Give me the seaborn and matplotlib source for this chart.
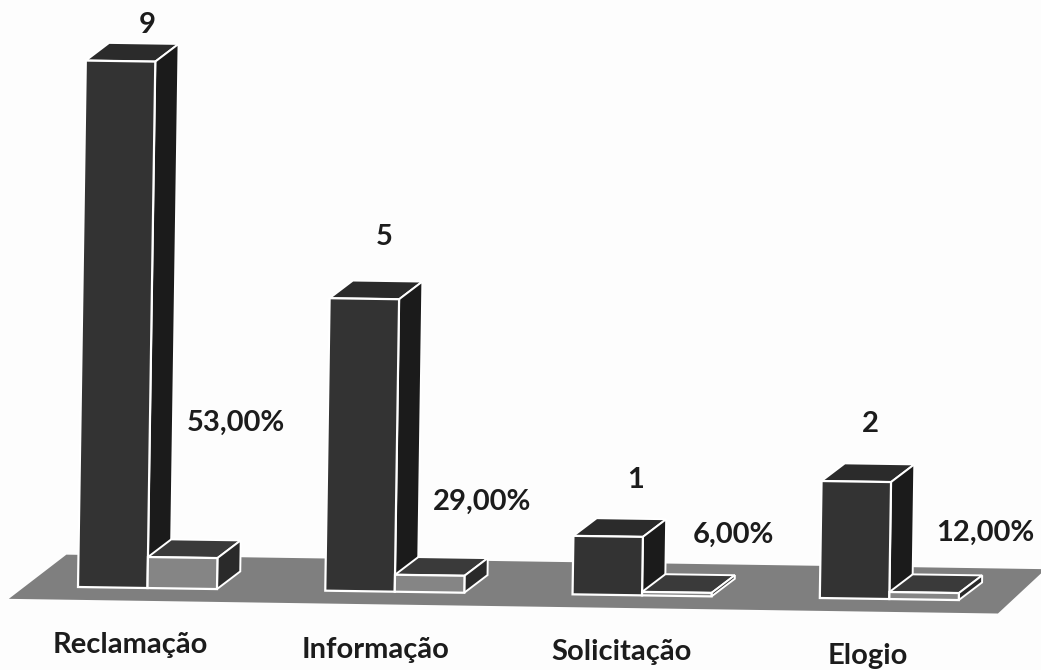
#!/usr/bin/env python3
# -*- coding: utf-8 -*-
import seaborn as sns
import pandas as pd
import matplotlib
matplotlib.use('Agg')
import matplotlib.pyplot as plt
from matplotlib.transforms import Affine2D

# values
categories = ['Reclamação', 'Informação', 'Solicitação', 'Elogio']
counts = [9, 5, 1, 2]
percents = [0.53, 0.29, 0.06, 0.12]
percent_labels = ['53,00%', '29,00%', '6,00%', '12,00%']

W, H = 1041, 670
px_x = 247.3    # pixels per category
px_y = 58.5     # pixels per count
x0, y0 = 147.5, 587   # pixel of the first category at the baseline
tilt = -0.85    # the scan is slightly rotated

sns.set_theme(style='white')
plt.rcParams['font.family'] = ['Lato', 'DejaVu Sans']

df = pd.DataFrame({
    'categoria': categories * 2,
    'valor': counts + percents,
    'serie': ['n'] * 4 + ['pct'] * 4,
})

paper = '#fdfdfd'
fig = plt.figure(figsize=(W / 100, H / 100), dpi=100, facecolor=paper)
ax = fig.add_axes([0, 0, 1, 1])
sns.barplot(data=df, x='categoria', y='valor', hue='serie', order=categories,
            hue_order=['n', 'pct'], palette={'n': '#333333', 'pct': '#858585'},
            width=139 / px_x, saturation=1, edgecolor='white', linewidth=1.6,
            legend=False, ax=ax)
ax.set_xlim(-x0 / px_x, (W - x0) / px_x)
ax.set_ylim(-(H - y0) / px_y, y0 / px_y)
ax.axis('off')

rot = Affine2D().rotate_deg_around(78, H - y0, tilt)
trans = ax.transData + rot

# floor under the bars
floor_x = [-0.56, -0.33, 3.63, 3.44]
floor_y = [-0.22, 0.55, 0.55, -0.22]
ax.fill(floor_x, floor_y, color='#7f7f7f', lw=0, zorder=1, transform=trans,
        clip_on=False)

# depth of the 3d bars, taken from the bars seaborn drew
dx = 23 / px_x
dy = 18 / px_y
styles = [('#2b2b2b', '#1b1b1b', 2), ('#3a3a3a', '#2a2a2a', 4)]
for container, (top_c, side_c, z) in zip(ax.containers, styles):
    for bar in container:
        x, w, h = bar.get_x(), bar.get_width(), bar.get_height()
        ax.fill([x, x + dx, x + w + dx, x + w], [h, h + dy, h + dy, h],
                facecolor=top_c, edgecolor='white', lw=1.4, zorder=z,
                transform=trans, clip_on=False)
        ax.fill([x + w, x + w + dx, x + w + dx, x + w],
                [0, dy, h + dy, h],
                facecolor=side_c, edgecolor='white', lw=1.4, zorder=z,
                transform=trans, clip_on=False)
        bar.set_transform(trans)
        bar.set_zorder(z + 1)
        bar.set_clip_on(False)

# text positions in pixels
count_pos = [(147, 25), (384, 237), (636, 480), (870, 424)]
pct_pos = [(236, 423), (482, 502), (733, 535), (985, 533)]
cat_pos = [(130, 645), (376, 650), (622, 652), (868, 656)]


def label(pos, s):
    fig.text(pos[0] / W, 1 - pos[1] / H, s, ha='center', va='center',
             fontsize=21, fontweight='bold', color='#1c1c1c')


for pos, c in zip(count_pos, counts):
    label(pos, str(c))
for pos, s in zip(pct_pos, percent_labels):
    label(pos, s)
for pos, s in zip(cat_pos, categories):
    label(pos, s)

fig.savefig('out.png', dpi=100, facecolor=paper)
